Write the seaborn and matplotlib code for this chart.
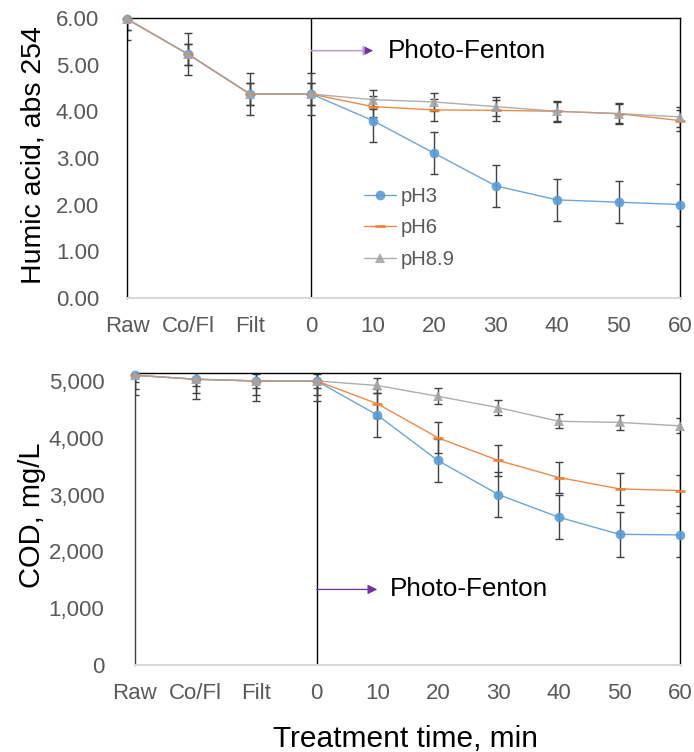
import numpy as np
import pandas as pd
import matplotlib
matplotlib.use("Agg")
import matplotlib.pyplot as plt
import seaborn as sns

sns.set_theme(style="white")
plt.rcParams["font.family"] = ["Liberation Sans", "DejaVu Sans"]

# categories along x
steps = ["Raw", "Co/Fl", "Filt", "0", "10", "20", "30", "40", "50", "60"]
series_names = ["pH3", "pH6", "pH8.9"]

# humic acid, abs 254
ha_ph3 = [5.98, 5.22, 4.37, 4.37, 3.80, 3.10, 2.40, 2.10, 2.05, 2.00]
ha_ph6 = [5.98, 5.22, 4.37, 4.37, 4.10, 4.03, 4.02, 4.00, 3.95, 3.80]
ha_ph89 = [5.98, 5.22, 4.37, 4.37, 4.25, 4.20, 4.10, 4.00, 3.95, 3.88]
ha_ph3_err = [0.45, 0.45, 0.45, 0.45, 0.46, 0.45, 0.45, 0.45, 0.45, 0.45]
ha_ph6_err = [0.23, 0.23, 0.23, 0.23, 0.22, 0.24, 0.22, 0.22, 0.22, 0.22]
ha_ph89_err = [0.23, 0.23, 0.23, 0.23, 0.21, 0.19, 0.20, 0.20, 0.21, 0.21]

# COD, mg/L
cod_ph3 = [5100, 5030, 5000, 5000, 4400, 3600, 3000, 2600, 2300, 2290]
cod_ph6 = [5100, 5030, 5000, 5000, 4600, 4000, 3600, 3300, 3100, 3070]
cod_ph89 = [5100, 5030, 5000, 5000, 4920, 4730, 4530, 4290, 4270, 4210]
cod_ph3_err = [350, 350, 350, 350, 390, 380, 400, 390, 400, 390]
cod_ph6_err = [240, 240, 240, 240, 260, 275, 270, 275, 280, 280]
cod_ph89_err = [120, 120, 120, 120, 130, 140, 130, 120, 130, 130]

colors = {"pH3": "#5B9BD5", "pH6": "#ED7D31", "pH8.9": "#A5A5A5"}
markers = {"pH3": "o", "pH6": "_", "pH8.9": "^"}
msizes = {"pH3": 7, "pH6": 7, "pH8.9": 7.5}
label_gray = "#595959"

fig = plt.figure(figsize=(6.94, 7.52), dpi=100)
ax1 = fig.add_axes([0.183, 0.604, 0.797, 0.372])
ax2 = fig.add_axes([0.1945, 0.1157, 0.7855, 0.3883])


def draw_panel(ax, vals, errs):
    for name, v, e in zip(series_names, vals, errs):
        ax.errorbar(steps, v, yerr=e, fmt="none", ecolor="#404040",
                    elinewidth=1, capsize=3, capthick=1, zorder=2)
    for name, v in zip(series_names, vals):
        sns.lineplot(x=steps, y=v, sort=False, ax=ax, color=colors[name],
                     marker=markers[name], markersize=msizes[name],
                     markeredgewidth=2 if name == "pH6" else 0,
                     markeredgecolor=colors[name], linewidth=1,
                     label=name, clip_on=False, zorder=3, alpha=0.9)
    ax.set_xlim(0, len(steps) - 1)
    ax.axvline(3, color="black", lw=1, zorder=1)
    ax.tick_params(axis="both", length=0, labelsize=16, colors=label_gray)
    ax.tick_params(axis="x", pad=13)
    for s in ["left", "top", "right"]:
        ax.spines[s].set_color("black")
        ax.spines[s].set_linewidth(1)
    ax.spines["bottom"].set_color("#D9D9D9")
    ax.spines["bottom"].set_linewidth(1.5)
    ax.grid(False)


# top panel
draw_panel(ax1, [ha_ph3, ha_ph6, ha_ph89], [ha_ph3_err, ha_ph6_err, ha_ph89_err])
ax1.set_ylim(0, 6)
ax1.set_yticks(np.arange(0, 7, 1))
ax1.set_yticklabels([f"{t:.2f}" for t in np.arange(0, 7, 1)])
ax1.tick_params(axis="y", pad=20)
ax1.set_ylabel("Humic acid, abs 254", fontsize=20.5, color="black")
ax1.yaxis.set_label_coords(-0.146, 0.51)
ax1.set_xlabel("")
handles, labels = ax1.get_legend_handles_labels()
ax1.legend(handles, labels, loc="upper left", bbox_to_anchor=(0.395, 0.462),
           frameon=False, fontsize=14.6, handlelength=1.6, handletextpad=0.2,
           labelspacing=0.62, labelcolor=label_gray)
ax1.annotate("", xy=(4.0, 5.3), xytext=(3, 5.3),
             arrowprops=dict(arrowstyle="-|>", color="#B9A0D8", lw=1.2,
                             mutation_scale=14, shrinkA=0, shrinkB=0))
ax1.annotate("", xy=(4.0, 5.3), xytext=(3.85, 5.3),
             arrowprops=dict(arrowstyle="-|>", color="#7030A0", lw=0.1,
                             mutation_scale=14, shrinkA=0, shrinkB=0))
ax1.text(4.25, 5.3, "Photo-Fenton", fontsize=18.8, color="black", va="center")

# bottom panel
draw_panel(ax2, [cod_ph3, cod_ph6, cod_ph89], [cod_ph3_err, cod_ph6_err, cod_ph89_err])
ax2.set_ylim(0, 5140)
ax2.set_yticks(np.arange(0, 6000, 1000))
ax2.set_yticklabels([f"{t:,}" for t in np.arange(0, 6000, 1000)])
ax2.tick_params(axis="y", pad=22)
ax2.spines["left"].set_color("#404040")
ax2.set_ylabel("COD, mg/L", fontsize=21, color="black")
ax2.yaxis.set_label_coords(-0.163, 0.514)
ax2.set_xlabel("Treatment time, min", fontsize=21.5, color="black")
ax2.xaxis.set_label_coords(0.497, -0.205)
if ax2.get_legend() is not None:
    ax2.get_legend().remove()
ax2.annotate("", xy=(4.0, 1330), xytext=(3, 1330),
             arrowprops=dict(arrowstyle="-|>", color="#7030A0", lw=0.9,
                             mutation_scale=14, shrinkA=0, shrinkB=0))
ax2.text(4.2, 1330, "Photo-Fenton", fontsize=18.8, color="black", va="center")

fig.savefig("out.png", dpi=100)
